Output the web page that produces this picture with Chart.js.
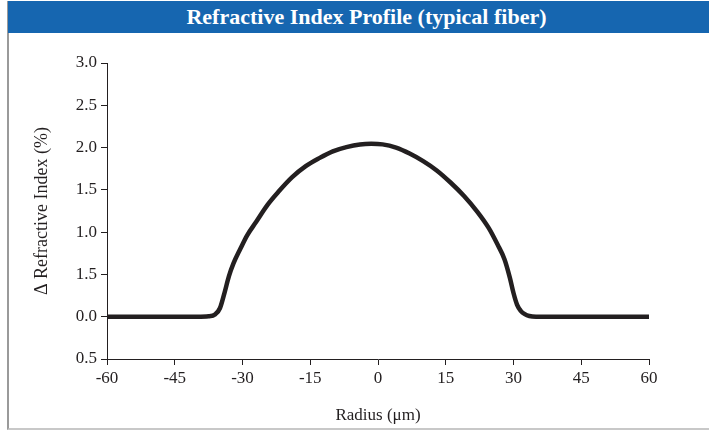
<!DOCTYPE html>
<html>
<head>
<meta charset="utf-8">
<script src="https://cdn.jsdelivr.net/npm/chart.js@4/dist/chart.umd.min.js"></script>
<style>
    html, body { margin: 0; padding: 0; background: #fff; }
    #wrap { position: relative; width: 709px; height: 433px; overflow: hidden; }
    #frame {
        position: absolute; left: 7px; top: 1px; right: -2px; bottom: 3px;
        border-left: 2px solid #9a9a9a; border-bottom: 2px solid #c8c8c8;
    }
    #header {
        position: absolute; left: 8px; top: 1px; right: 0; height: 32px; padding-left: 16px;
        background: #1666b0; color: #fff; text-align: center;
        font: bold 22px "Liberation Serif", "DejaVu Serif", serif; line-height: 32px;
    }
    #chart { position: absolute; left: 0; top: 0; }
</style>
</head>
<body>
<div id="wrap">
    <div id="frame"></div>
    <div id="header">Refractive Index Profile (typical fiber)</div>
    <canvas id="chart" width="709" height="433"></canvas>
</div>
<script>
    // Profile
    var radius = [-60, -50, -40, -37.5, -36, -35, -34, -33, -32, -30.5, -29, -27, -24.5, -22, -19, -16, -13,
        -10, -7, -4, -1.5, 1, 4, 7, 10, 13, 16, 19, 22, 24.5, 26.5, 28, 29.2, 30, 30.8, 31.6,
        32.5, 33.5, 35, 40, 50, 60];
    var delta = [0, 0, 0, 0.005, 0.03, 0.10, 0.28, 0.48, 0.63, 0.80, 0.96, 1.12, 1.32, 1.48, 1.65, 1.78, 1.875,
        1.955, 2.005, 2.037, 2.045, 2.038, 2.00, 1.93, 1.84, 1.73, 1.59, 1.43, 1.24, 1.05, 0.85, 0.68, 0.46, 0.28, 0.14, 0.07,
        0.03, 0.008, 0, 0, 0, 0];

    // Axis ticks (the y labels are printed as in the original)
    var xTicks = [-60, -45, -30, -15, 0, 15, 30, 45, 60];
    var yTickValues = [-0.5, 0, 0.5, 1.0, 1.5, 2.0, 2.5, 3.0];
    var yTickLabels = ["0.5", "0.0", "1.5", "1.0", "1.5", "2.0", "2.5", "3.0"];

    var ink = "#231f20";
    var serif = "'Liberation Serif', 'DejaVu Serif', serif";

    var points = radius.map(function (r, i) { return {x: r, y: delta[i]}; });

    var ctx = document.getElementById("chart").getContext("2d");
    var chart = new Chart(ctx, {
        type: "line",
        data: {
            datasets: [{
                data: points,
                borderColor: ink,
                borderWidth: 4.5,
                borderCapStyle: "round",
                borderJoinStyle: "round",
                pointRadius: 0,
                fill: false,
                cubicInterpolationMode: "monotone"
            }]
        },
        options: {
            responsive: false,
            animation: false,
            events: [],
            layout: {padding: {left: 0, right: 60, top: 63, bottom: 0}},
            plugins: {legend: {display: false}, tooltip: {enabled: false}},
            scales: {
                x: {
                    type: "linear",
                    min: -60,
                    max: 60,
                    afterBuildTicks: function (scale) {
                        scale.ticks = xTicks.map(function (v) { return {value: v}; });
                    },
                    afterFit: function (scale) { scale.height = 74; },
                    grid: {display: true, drawOnChartArea: false, drawTicks: true, tickLength: 6, color: ink, lineWidth: 1},
                    border: {display: true, color: ink, width: 1},
                    ticks: {color: ink, padding: 3, font: {family: serif, size: 17}, maxRotation: 0},
                    title: {display: true, text: "Radius (μm)", color: ink, font: {family: serif, size: 17}, padding: {top: 7, bottom: 7}}
                },
                y: {
                    type: "linear",
                    min: -0.5,
                    max: 3.0,
                    afterBuildTicks: function (scale) {
                        scale.ticks = yTickValues.map(function (v) { return {value: v}; });
                    },
                    afterFit: function (scale) { scale.width = 107; },
                    grid: {display: true, drawOnChartArea: false, drawTicks: true, tickLength: 6, color: ink, lineWidth: 1},
                    border: {display: true, color: ink, width: 1},
                    ticks: {
                        color: ink, padding: 4, font: {family: serif, size: 17},
                        callback: function (v, i) { return yTickLabels[i]; }
                    },
                    title: {display: true, text: "Δ Refractive Index (%)", color: ink, font: {family: serif, size: 18}, padding: {top: 31, bottom: 31}}
                }
            }
        }
    });
</script>
</body>
</html>
